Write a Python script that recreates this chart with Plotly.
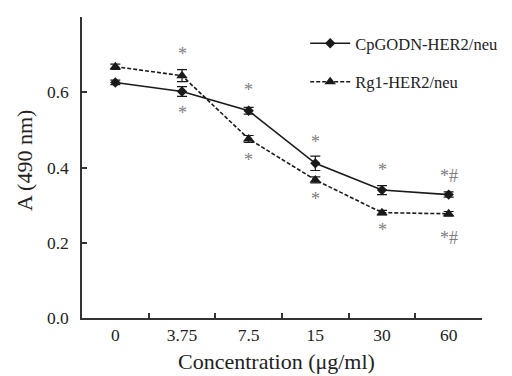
import plotly.graph_objects as go

categories = ["0", "3.75", "7.5", "15", "30", "60"]
cpgodn = [0.626, 0.602, 0.551, 0.411, 0.340, 0.328]
cpgodn_err = [0.006, 0.013, 0.009, 0.019, 0.012, 0.007]
rg1 = [0.668, 0.644, 0.476, 0.367, 0.280, 0.277]
rg1_err = [0.007, 0.016, 0.009, 0.008, 0.006, 0.006]

# significance labels (above / below the curves)
sig_top_text = ["", "*", "*", "*", "*", "*#"]
sig_top_y = [None, 0.703, 0.606, 0.469, 0.394, 0.378]
sig_bot_text = ["", "*", "*", "*", "*", "*#"]
sig_bot_y = [None, 0.545, 0.420, 0.316, 0.234, 0.212]

serif = "Liberation Serif"
ink = "#1a1a1a"

fig = go.Figure()
fig.add_trace(go.Scatter(
    x=categories, y=cpgodn, name="CpGODN-HER2/neu", mode="lines+markers",
    line=dict(color=ink, width=1.6),
    marker=dict(symbol="diamond", size=8, color=ink),
    error_y=dict(type="data", array=cpgodn_err, color=ink, thickness=1.2, width=5),
    legendgroup="a",
))
fig.add_trace(go.Scatter(
    x=categories, y=rg1, name="Rg1-HER2/neu", mode="lines+markers",
    line=dict(color=ink, width=1.6, dash="4px,2px"),
    marker=dict(symbol="triangle-up", size=10, color=ink),
    error_y=dict(type="data", array=rg1_err, color=ink, thickness=1.2, width=5),
    legendgroup="b",
))

for texts, ys in ((sig_top_text, sig_top_y), (sig_bot_text, sig_bot_y)):
    for i, (t, y) in enumerate(zip(texts, ys)):
        if t:
            fig.add_annotation(x=i, y=y, xref="x", yref="y", text=t, showarrow=False,
                               xanchor="center", yanchor="middle",
                               font=dict(family=serif, size=18, color="#7d7d7d"))

# axis titles
fig.add_annotation(x=0.485, y=-0.146, xref="paper", yref="paper",
                   xanchor="center", yanchor="middle",
                   text="Concentration (μg/ml)", showarrow=False,
                   font=dict(family=serif, size=22, color="#222222"))
fig.add_annotation(x=-0.142, y=0.522, xref="paper", yref="paper",
                   xanchor="center", yanchor="middle",
                   text="A (490 nm)", showarrow=False, textangle=-90,
                   font=dict(family=serif, size=22, color="#222222"))

fig.update_layout(
    width=512, height=376,
    margin=dict(l=74, r=38, t=9, b=66, autoexpand=False),
    paper_bgcolor="white", plot_bgcolor="white",
    font=dict(family=serif, size=17, color="#222222"),
    showlegend=True,
    legend=dict(x=0.558, y=0.97, xanchor="left", yanchor="top",
                bgcolor="rgba(0,0,0,0)", font=dict(family=serif, size=16.5, color="#222222"),
                traceorder="grouped", tracegroupgap=14, itemwidth=40),
    xaxis=dict(
        type="category", range=[-0.5, 5.5], tickson="boundaries",
        showline=True, linecolor="#333333", linewidth=1.5,
        ticks="inside", ticklen=5, tickcolor="#333333", tickwidth=1.5,
        showgrid=False, zeroline=False, automargin=False,
        tickfont=dict(family=serif, size=17.5, color="#222222"),
    ),
    yaxis=dict(
        range=[0, 0.8], tickvals=[0, 0.2, 0.4, 0.6, 0.8],
        ticktext=["0.0", "0.2", "0.4", "0.6", "0.8"],
        showline=True, linecolor="#333333", linewidth=1.5,
        ticks="inside", ticklen=5, tickcolor="#333333", tickwidth=1.5,
        ticklabelstandoff=8,
        showgrid=False, zeroline=False, automargin=False,
        tickfont=dict(family=serif, size=17.5, color="#222222"),
    ),
)

fig.write_html("out.html")
